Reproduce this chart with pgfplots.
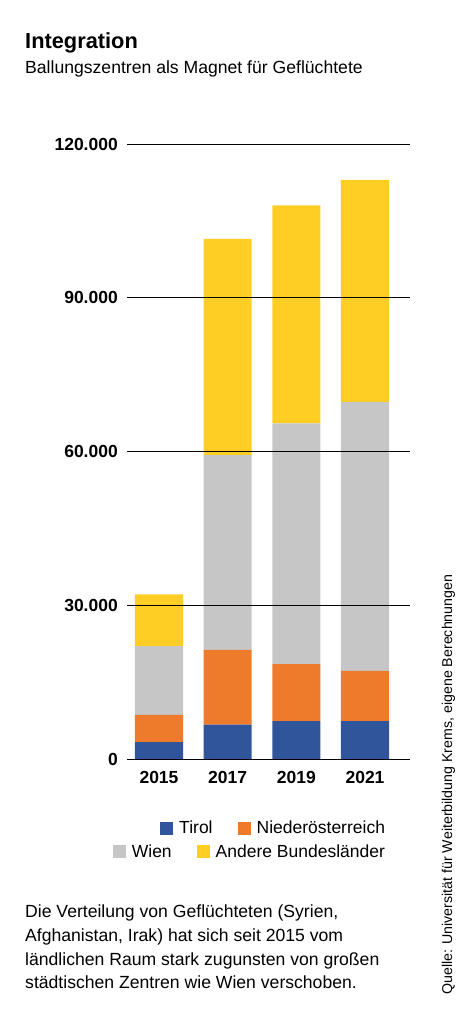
\documentclass[border=0pt]{standalone}
\usepackage{fontspec}
\setmainfont{Liberation Sans}
\usepackage{pgfplots}
\pgfplotsset{compat=1.18}

\definecolor{tirol}{HTML}{30559A}
\definecolor{noe}{HTML}{EE7B2C}
\definecolor{wien}{HTML}{C6C6C6}
\definecolor{andere}{HTML}{FECE25}

\newcommand{\fs}[1]{\fontsize{#1pt}{#1pt}\selectfont}

\pgfplotsset{
  squarelegend/.style={
    legend image code/.code={\fill[##1, draw=none] (0pt,-6.5pt) rectangle (13pt,6.5pt);},
    legend columns=2,
    legend style={draw=none, fill=none, inner sep=0pt, outer sep=0pt,
      nodes={inner sep=0pt, font=\fs{17.5}},
      /tikz/every odd column/.append style={column sep=6pt},
      /tikz/every even column/.append style={column sep=25pt}},
  },
}

\begin{document}
\begin{tikzpicture}[x=1pt,y=1pt]
\path (0,0) rectangle (465,1010);

% titles
\node[anchor=base west, inner sep=0pt, font=\bfseries\fs{21.8}] at (25,961) {Integration};
\node[anchor=base west, inner sep=0pt, font=\fs{17.6}] at (25,936) {Ballungszentren als Magnet für Geflüchtete};

\begin{axis}[
  at={(127pt,251pt)}, anchor=south west,
  scale only axis, width=283pt, height=615pt,
  ybar stacked, bar width=0.7,
  xmin=-0.466, xmax=3.655, ymin=0, ymax=120000,
  enlargelimits=false,
  axis line style={draw=none},
  major tick length=0pt,
  xtick={0,1,2,3}, xticklabels={2015,2017,2019,2021},
  ytick={0,30000,60000,90000,120000},
  yticklabels={0,30.000,60.000,90.000,120.000},
  scaled y ticks=false,
  xticklabel style={font=\bfseries\fs{17.5}, inner sep=0pt, anchor=north, yshift=-12pt},
  yticklabel style={font=\bfseries\fs{17.5}, inner sep=0pt, anchor=east, xshift=-9pt},
  ymajorgrids, major grid style={black, line width=0.9pt},
  axis on top,
  squarelegend,
  legend style={at={(0.9117,-0.1122)}, anchor=east},
]
\addplot[fill=tirol, draw=none] coordinates {(0,3300) (1,6700) (2,7400) (3,7400)};
\addlegendentry{Tirol}
\addplot[fill=noe, draw=none] coordinates {(0,5300) (1,14600) (2,11100) (3,9800)};
\addlegendentry{Niederösterreich}
\addplot[fill=wien, draw=none] coordinates {(0,13400) (1,38000) (2,47000) (3,52500)};
\addplot[fill=andere, draw=none] coordinates {(0,10100) (1,42200) (2,42500) (3,43300)};
\end{axis}

% second legend row
\begin{axis}[
  at={(127pt,251pt)}, anchor=south west,
  scale only axis, width=283pt, height=615pt,
  xmin=0, xmax=1, ymin=0, ymax=1, hide axis,
  squarelegend,
  legend style={at={(0.9117,-0.1512)}, anchor=east},
]
\addlegendimage{fill=wien, draw=none}
\addlegendentry{Wien}
\addlegendimage{fill=andere, draw=none}
\addlegendentry{Andere Bundesländer}
\end{axis}

% note
\node[anchor=base west, inner sep=0pt, font=\fs{17.6}] at (25,92) {Die Verteilung von Geflüchteten (Syrien,};
\node[anchor=base west, inner sep=0pt, font=\fs{17.6}] at (25,68.5) {Afghanistan, Irak) hat sich seit 2015 vom};
\node[anchor=base west, inner sep=0pt, font=\fs{17.6}] at (25,45) {ländlichen Raum stark zugunsten von großen};
\node[anchor=base west, inner sep=0pt, font=\fs{17.6}] at (25,21.7) {städtischen Zentren wie Wien verschoben.};

% source
\node[anchor=base west, inner sep=0pt, rotate=90, font=\fs{14.2}] at (452,15) {Quelle: Universität für Weiterbildung Krems, eigene Berechnungen};
\end{tikzpicture}
\end{document}
